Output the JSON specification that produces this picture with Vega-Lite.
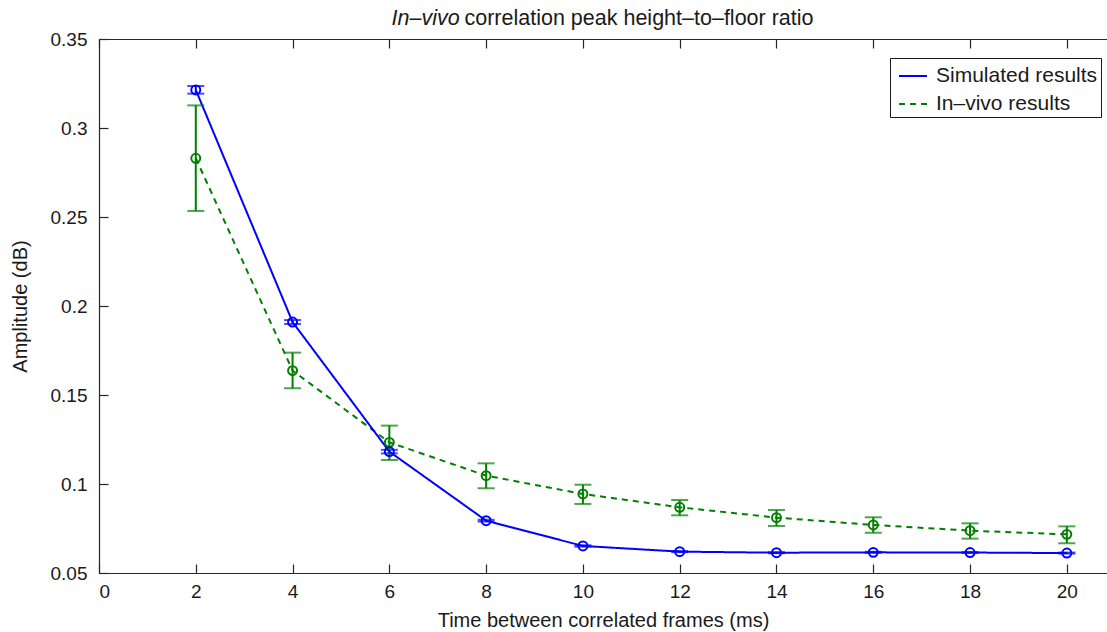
{
  "$schema": "https://vega.github.io/schema/vega-lite/v6.json",
  "width": 1008,
  "height": 534,
  "autosize": {"type": "none"},
  "padding": {"left": 99, "top": 39, "right": 0, "bottom": 59},
  "background": "white",
  "data": {
    "values": [
      {"series": "In–vivo results", "t": 2, "amp": 0.283, "lo": 0.2534, "hi": 0.3127},
      {"series": "In–vivo results", "t": 4, "amp": 0.1637, "lo": 0.1538, "hi": 0.1738},
      {"series": "In–vivo results", "t": 6, "amp": 0.1234, "lo": 0.1135, "hi": 0.1328},
      {"series": "In–vivo results", "t": 8, "amp": 0.1047, "lo": 0.0976, "hi": 0.1116},
      {"series": "In–vivo results", "t": 10, "amp": 0.0944, "lo": 0.0888, "hi": 0.0996},
      {"series": "In–vivo results", "t": 12, "amp": 0.0869, "lo": 0.0824, "hi": 0.091},
      {"series": "In–vivo results", "t": 14, "amp": 0.0811, "lo": 0.0764, "hi": 0.0854},
      {"series": "In–vivo results", "t": 16, "amp": 0.077, "lo": 0.0726, "hi": 0.0813},
      {"series": "In–vivo results", "t": 18, "amp": 0.0738, "lo": 0.0693, "hi": 0.0779},
      {"series": "In–vivo results", "t": 20, "amp": 0.0717, "lo": 0.0667, "hi": 0.0762},
      {"series": "Simulated results", "t": 2, "amp": 0.3214, "lo": 0.3193, "hi": 0.3236},
      {"series": "Simulated results", "t": 4, "amp": 0.191, "lo": 0.1899, "hi": 0.1921},
      {"series": "Simulated results", "t": 6, "amp": 0.1182, "lo": 0.1172, "hi": 0.1192},
      {"series": "Simulated results", "t": 8, "amp": 0.0794, "lo": 0.0789, "hi": 0.0799},
      {"series": "Simulated results", "t": 10, "amp": 0.0652, "lo": 0.0648, "hi": 0.0656},
      {"series": "Simulated results", "t": 12, "amp": 0.062, "lo": 0.0617, "hi": 0.0623},
      {"series": "Simulated results", "t": 14, "amp": 0.0614, "lo": 0.0611, "hi": 0.0617},
      {"series": "Simulated results", "t": 16, "amp": 0.0616, "lo": 0.0613, "hi": 0.0619},
      {"series": "Simulated results", "t": 18, "amp": 0.0615, "lo": 0.0612, "hi": 0.0618},
      {"series": "Simulated results", "t": 20, "amp": 0.0612, "lo": 0.0609, "hi": 0.0615}
    ]
  },
  "layer": [
    {
      "mark": {"type": "line", "strokeWidth": 2},
      "encoding": {
        "x": {
          "field": "t", "type": "quantitative",
          "scale": {"domain": [0, 20.83], "nice": false},
          "axis": {
            "orient": "bottom", "values": [0, 2, 4, 6, 8, 10, 12, 14, 16, 18, 20],
            "title": "Time between correlated frames (ms)",
            "tickSize": -9, "labelPadding": 18, "titleY": 47, "titleBaseline": "middle"
          }
        },
        "y": {
          "field": "amp", "type": "quantitative",
          "scale": {"domain": [0.05, 0.35], "nice": false, "zero": false},
          "axis": {
            "orient": "left", "values": [0.05, 0.1, 0.15, 0.2, 0.25, 0.3, 0.35],
            "format": "~g", "title": "Amplitude (dB)",
            "tickSize": -9, "labelPadding": 21, "titleX": -79, "titleY": 267, "titleBaseline": "middle"
          }
        },
        "color": {
          "field": "series", "type": "nominal",
          "scale": {"domain": ["Simulated results", "In–vivo results"], "range": ["#0000ff", "#008000"]},
          "legend": {"title": null}
        },
        "strokeDash": {
          "field": "series", "type": "nominal",
          "scale": {"domain": ["Simulated results", "In–vivo results"], "range": [[1, 0], [6, 5]]},
          "legend": {"title": null}
        }
      }
    },
    {
      "mark": {"type": "errorbar", "ticks": {"size": 17}, "thickness": 2},
      "encoding": {
        "x": {"field": "t", "type": "quantitative", "axis": null},
        "y": {"field": "lo", "type": "quantitative", "axis": null},
        "y2": {"field": "hi"},
        "color": {"field": "series", "type": "nominal", "legend": null}
      }
    },
    {
      "mark": {"type": "point", "shape": "circle", "filled": false, "size": 80, "strokeWidth": 2, "opacity": 1},
      "encoding": {
        "x": {
          "field": "t", "type": "quantitative",
          "axis": {
            "orient": "top", "values": [0, 2, 4, 6, 8, 10, 12, 14, 16, 18, 20],
            "labels": false, "tickSize": -9,
            "title": "correlation peak height–to–floor ratio",
            "titleX": 365, "titleY": -15, "titleAlign": "left", "titleBaseline": "alphabetic", "titleAnchor": "start",
            "titleFontSize": 21.5
          }
        },
        "y": {
          "field": "amp", "type": "quantitative",
          "axis": {
            "orient": "right", "domain": false, "ticks": false, "labels": false,
            "title": "In–vivo", "titleAngle": 0, "titleX": -716, "titleY": -15,
            "titleAlign": "left", "titleBaseline": "alphabetic", "titleFontStyle": "italic", "titleAnchor": "start",
            "titleFontSize": 21.5
          }
        },
        "color": {"field": "series", "type": "nominal", "legend": null}
      }
    }
  ],
  "resolve": {"axis": {"x": "independent", "y": "independent"}},
  "config": {
    "view": {"stroke": null},
    "font": "Liberation Sans",
    "axis": {
      "grid": false,
      "domainColor": "#262626", "domainWidth": 1.2,
      "tickColor": "#262626", "tickWidth": 1.2,
      "labelColor": "#1a1a1a", "labelFontSize": 19, "labelFont": "Liberation Sans",
      "titleColor": "#1a1a1a", "titleFontSize": 20, "titleFontWeight": "normal", "titleFont": "Liberation Sans"
    },
    "legend": {
      "orient": "none", "legendX": 791, "legendY": 19,
      "strokeColor": "#1a1a1a", "fillColor": "white", "padding": 3,
      "labelFontSize": 21, "labelFont": "Liberation Sans", "labelColor": "#1a1a1a", "labelLimit": 300,
      "symbolType": "stroke", "symbolSize": 784, "symbolStrokeWidth": 2, "symbolOffset": 5,
      "labelOffset": 8, "rowPadding": 3
    }
  }
}
